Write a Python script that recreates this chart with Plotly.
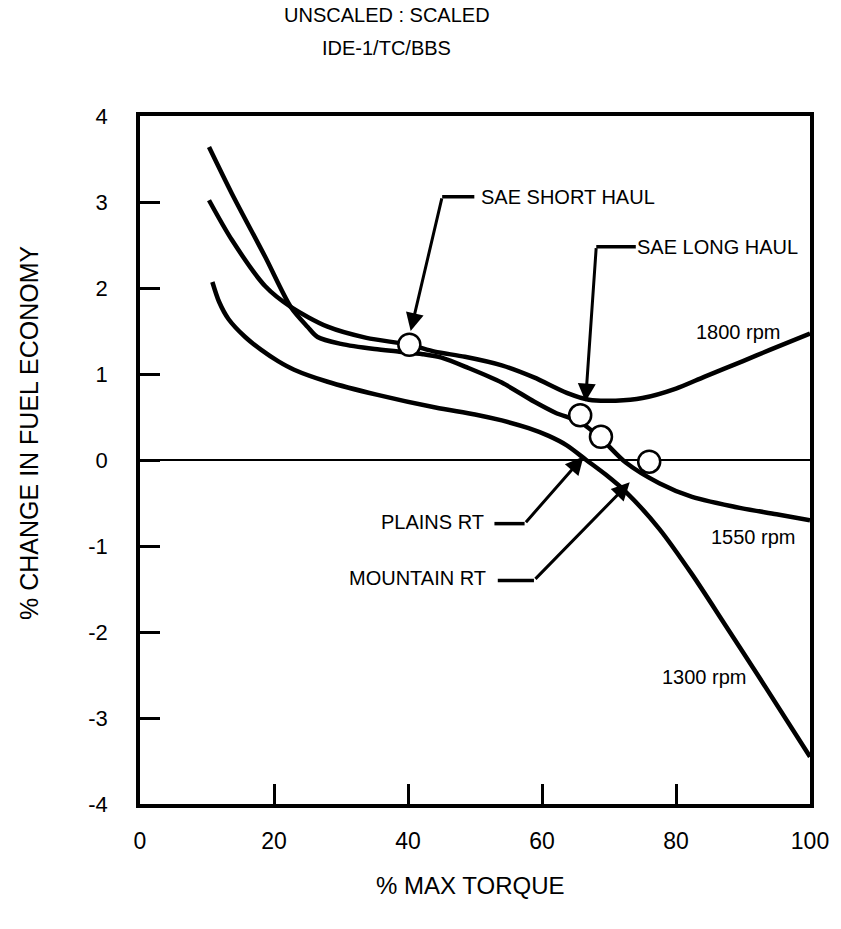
import plotly.graph_objects as go

# ---- data ----
torque_1800 = [10.3, 13.7, 18.7, 22.5, 28, 33.8, 40.2, 44, 48.5, 54, 58.8, 63.7, 67, 71, 75, 80, 84.3, 90, 94, 100]
fe_1800 = [3.02, 2.56, 2.02, 1.78, 1.55, 1.42, 1.34, 1.26, 1.20, 1.10, 0.96, 0.78, 0.70, 0.69, 0.72, 0.83, 0.97, 1.15, 1.28, 1.47]

torque_1550 = [10.3, 13.7, 18.7, 22.5, 25, 26.5, 30, 35, 38.7, 42.2, 45, 49, 54, 58.8, 62, 65.7, 68.8, 72.5, 77.5, 82.4, 89.7, 95, 100]
fe_1550 = [3.64, 3.10, 2.36, 1.78, 1.55, 1.43, 1.35, 1.29, 1.26, 1.23, 1.19, 1.07, 0.90, 0.68, 0.55, 0.44, 0.25, -0.03, -0.27, -0.43, -0.56, -0.63, -0.70]

torque_1300 = [10.8, 11.8, 13.2, 15.7, 18.1, 20.6, 23, 28, 35.3, 44.1, 50, 54, 58, 61, 63.7, 66.6, 69.5, 72.5, 77.5, 82.4, 87.2, 92.2, 100]
fe_1300 = [2.07, 1.84, 1.64, 1.43, 1.28, 1.15, 1.05, 0.91, 0.76, 0.61, 0.53, 0.46, 0.37, 0.28, 0.17, 0.0, -0.17, -0.37, -0.80, -1.33, -1.90, -2.50, -3.45]

route_names = ["SAE SHORT HAUL", "SAE LONG HAUL", "PLAINS RT", "MOUNTAIN RT"]
route_torque = [40.2, 65.7, 68.8, 76.0]
route_fe = [1.34, 0.52, 0.27, -0.02]

x_ticks = [0, 20, 40, 60, 80, 100]
y_ticks = [-4, -3, -2, -1, 0, 1, 2, 3, 4]
y_ticktext = ["-4", "-3", "-2", "-1", "0", "1", "2", "3", "4"]

FONT = "Liberation Sans, Arial, Helvetica, sans-serif"
LW = 4.5

fig = go.Figure()
for xs, ys in [(torque_1800, fe_1800), (torque_1550, fe_1550), (torque_1300, fe_1300)]:
    fig.add_trace(go.Scatter(x=xs, y=ys, mode="lines",
                             line=dict(color="black", width=LW, shape="spline", smoothing=0.8),
                             showlegend=False, hoverinfo="skip"))

# leader lines (elbow -> label)
leaders = [
    dict(tip=(40.4, 1.50), elbow=(45.1, 3.06), end=(49.9, 3.06), lab=(50.6, 3.06), anchor="left"),
    dict(tip=(66.5, 0.68), elbow=(68.1, 2.48), end=(74.0, 2.48), lab=(73.9, 2.48), anchor="left"),
    dict(tip=(66.2, 0.04), elbow=(57.4, -0.74), end=(52.9, -0.74), lab=(51.7, -0.72), anchor="right"),
    dict(tip=(73.1, -0.26), elbow=(58.8, -1.40), end=(53.4, -1.40), lab=(52.0, -1.37), anchor="right"),
]
for name, ld in zip(route_names, leaders):
    fig.add_shape(type="line", x0=ld["elbow"][0], y0=ld["elbow"][1], x1=ld["end"][0], y1=ld["end"][1],
                  xref="x", yref="y", line=dict(color="black", width=3.5))
    fig.add_annotation(x=ld["tip"][0], y=ld["tip"][1], ax=ld["elbow"][0], ay=ld["elbow"][1],
                       axref="x", ayref="y", xref="x", yref="y", text="", showarrow=True,
                       arrowhead=2, arrowsize=1.2, arrowwidth=3, arrowcolor="black")
    fig.add_annotation(x=ld["lab"][0], y=ld["lab"][1], xref="x", yref="y", text=name, showarrow=False,
                       xanchor=ld["anchor"], yanchor="middle", font=dict(family=FONT, size=20, color="black"))

# route points (open circles)
fig.add_trace(go.Scatter(x=route_torque, y=route_fe, mode="markers",
                         marker=dict(symbol="circle", size=22, color="white",
                                     line=dict(color="black", width=2.5)),
                         showlegend=False, hoverinfo="skip"))

# rpm labels
for txt, (lx, ly) in [("1800 rpm", (89.3, 1.49)), ("1550 rpm", (91.5, -0.9)), ("1300 rpm", (84.3, -2.52))]:
    fig.add_annotation(x=lx, y=ly, xref="x", yref="y", text=txt, showarrow=False,
                       xanchor="center", yanchor="middle",
                       font=dict(family=FONT, size=20, color="black"))

# titles
fig.add_annotation(x=0.368, y=1.147, xref="paper", yref="paper", text="UNSCALED : SCALED",
                   xanchor="center", yanchor="middle",
                   showarrow=False, font=dict(family=FONT, size=20, color="black"))
fig.add_annotation(x=0.368, y=1.099, xref="paper", yref="paper", text="IDE-1/TC/BBS",
                   xanchor="center", yanchor="middle",
                   showarrow=False, font=dict(family=FONT, size=20, color="black"))
fig.add_annotation(x=0.493, y=-0.118, xref="paper", yref="paper", text="% MAX TORQUE",
                   xanchor="center", yanchor="middle",
                   showarrow=False, font=dict(family=FONT, size=24, color="black"))
fig.add_annotation(x=-0.165, y=0.54, xref="paper", yref="paper", text="% CHANGE IN FUEL ECONOMY",
                   xanchor="center", yanchor="middle",
                   textangle=-90, showarrow=False, font=dict(family=FONT, size=25, color="black"))

fig.update_xaxes(range=[0, 100], tickvals=x_ticks, ticktext=[str(v) for v in x_ticks],
                 ticks="inside", ticklen=20, tickwidth=2.5, tickcolor="black",
                 showline=True, linewidth=3.5, linecolor="black", mirror=True,
                 showgrid=False, zeroline=False, ticklabelstandoff=14,
                 tickfont=dict(family=FONT, size=23, color="black"))
fig.update_yaxes(range=[-4, 4], tickvals=y_ticks, ticktext=y_ticktext,
                 ticks="inside", ticklen=20, tickwidth=2.5, tickcolor="black",
                 showline=True, linewidth=3.5, linecolor="black", mirror=True,
                 showgrid=False, zeroline=True, zerolinewidth=1.8, zerolinecolor="black",
                 ticklabelstandoff=24,
                 tickfont=dict(family=FONT, size=22, color="black"))

fig.update_layout(width=841, height=929, margin=dict(l=140, r=21, t=116, b=125),
                  paper_bgcolor="white", plot_bgcolor="white", showlegend=False)

fig.write_html("out.html")
